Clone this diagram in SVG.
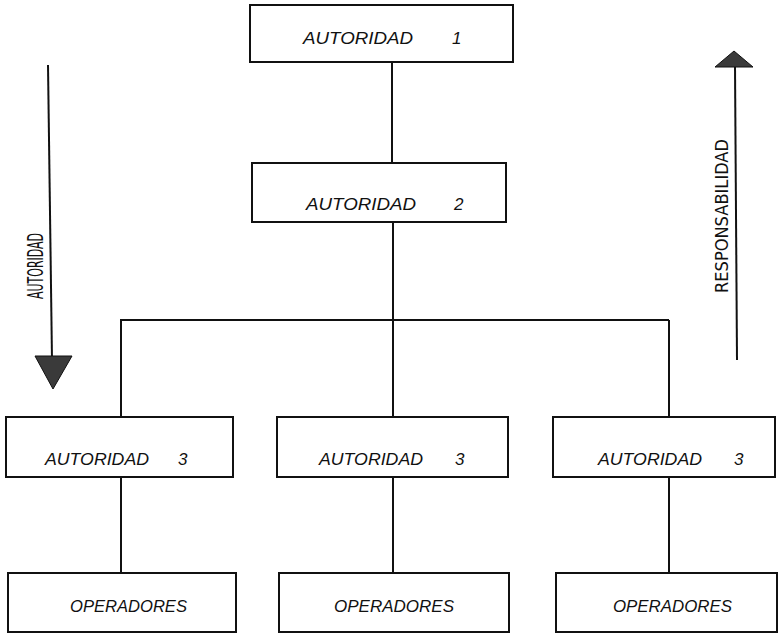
<svg xmlns="http://www.w3.org/2000/svg" width="781" height="634" viewBox="0 0 781 634">
<style>
.box{fill:#fff;stroke:#111;stroke-width:2}
.ln{stroke:#111;stroke-width:2;fill:none}
.t{font-family:"Liberation Sans",Arial,sans-serif;font-style:italic;font-size:17px;fill:#111}
.v{font-family:"Liberation Sans Narrow","DejaVu Sans Condensed","Liberation Sans",sans-serif;font-size:18px;fill:#111}
.tri{fill:#3a3a3a;stroke:#111;stroke-width:1}
</style>
<rect width="781" height="634" fill="#fff"/>
<g id="connectors">
<line class="ln" x1="392" y1="62" x2="392" y2="163"/>
<line class="ln" x1="393" y1="222" x2="393" y2="320"/>
<line class="ln" x1="120" y1="320" x2="669" y2="320"/>
<line class="ln" x1="121" y1="320" x2="121" y2="417"/>
<line class="ln" x1="393" y1="320" x2="393" y2="417"/>
<line class="ln" x1="669" y1="320" x2="669" y2="417"/>
<line class="ln" x1="121" y1="477" x2="121" y2="573"/>
<line class="ln" x1="393" y1="477" x2="393" y2="573"/>
<line class="ln" x1="669" y1="477" x2="669" y2="573"/>
</g>
<g id="arrow-autoridad">
<line class="ln" x1="48" y1="65" x2="52" y2="360"/>
<polygon class="tri" points="35,356 72,356 53,389"/>
<text class="v" style="font-size:21px" transform="translate(43,266) rotate(-90)" text-anchor="middle" textLength="66" lengthAdjust="spacingAndGlyphs">AUTORIDAD</text>
</g>
<g id="arrow-responsabilidad">
<line class="ln" x1="735" y1="66" x2="737" y2="360"/>
<polygon class="tri" points="734,51 715,67 753,67"/>
<text class="v" transform="translate(728,216) rotate(-90)" text-anchor="middle" textLength="154" lengthAdjust="spacingAndGlyphs">RESPONSABILIDAD</text>
</g>
<g id="n1">
<rect class="box" x="250" y="5" width="263" height="57"/>
<text class="t" x="303" y="44" textLength="110" lengthAdjust="spacingAndGlyphs">AUTORIDAD</text><text class="t" x="452" y="44">1</text>
</g>
<g id="n2">
<rect class="box" x="252" y="163" width="254" height="59"/>
<text class="t" x="306" y="210" textLength="110" lengthAdjust="spacingAndGlyphs">AUTORIDAD</text><text class="t" x="454" y="210">2</text>
</g>
<g id="n3a">
<rect class="box" x="6" y="417" width="227" height="60"/>
<text class="t" x="45" y="465" textLength="104" lengthAdjust="spacingAndGlyphs">AUTORIDAD</text><text class="t" x="178" y="465">3</text>
</g>
<g id="n3b">
<rect class="box" x="277" y="417" width="231" height="60"/>
<text class="t" x="319" y="465" textLength="104" lengthAdjust="spacingAndGlyphs">AUTORIDAD</text><text class="t" x="455" y="465">3</text>
</g>
<g id="n3c">
<rect class="box" x="553" y="417" width="222" height="60"/>
<text class="t" x="598" y="465" textLength="104" lengthAdjust="spacingAndGlyphs">AUTORIDAD</text><text class="t" x="734" y="465">3</text>
</g>
<g id="op1">
<rect class="box" x="8" y="573" width="228" height="59"/>
<text class="t" x="70" y="612" textLength="117" lengthAdjust="spacingAndGlyphs">OPERADORES</text>
</g>
<g id="op2">
<rect class="box" x="279" y="573" width="230" height="59"/>
<text class="t" x="334" y="612" textLength="120" lengthAdjust="spacingAndGlyphs">OPERADORES</text>
</g>
<g id="op3">
<rect class="box" x="556" y="573" width="221" height="59"/>
<text class="t" x="613" y="612" textLength="119" lengthAdjust="spacingAndGlyphs">OPERADORES</text>
</g>
</svg>
